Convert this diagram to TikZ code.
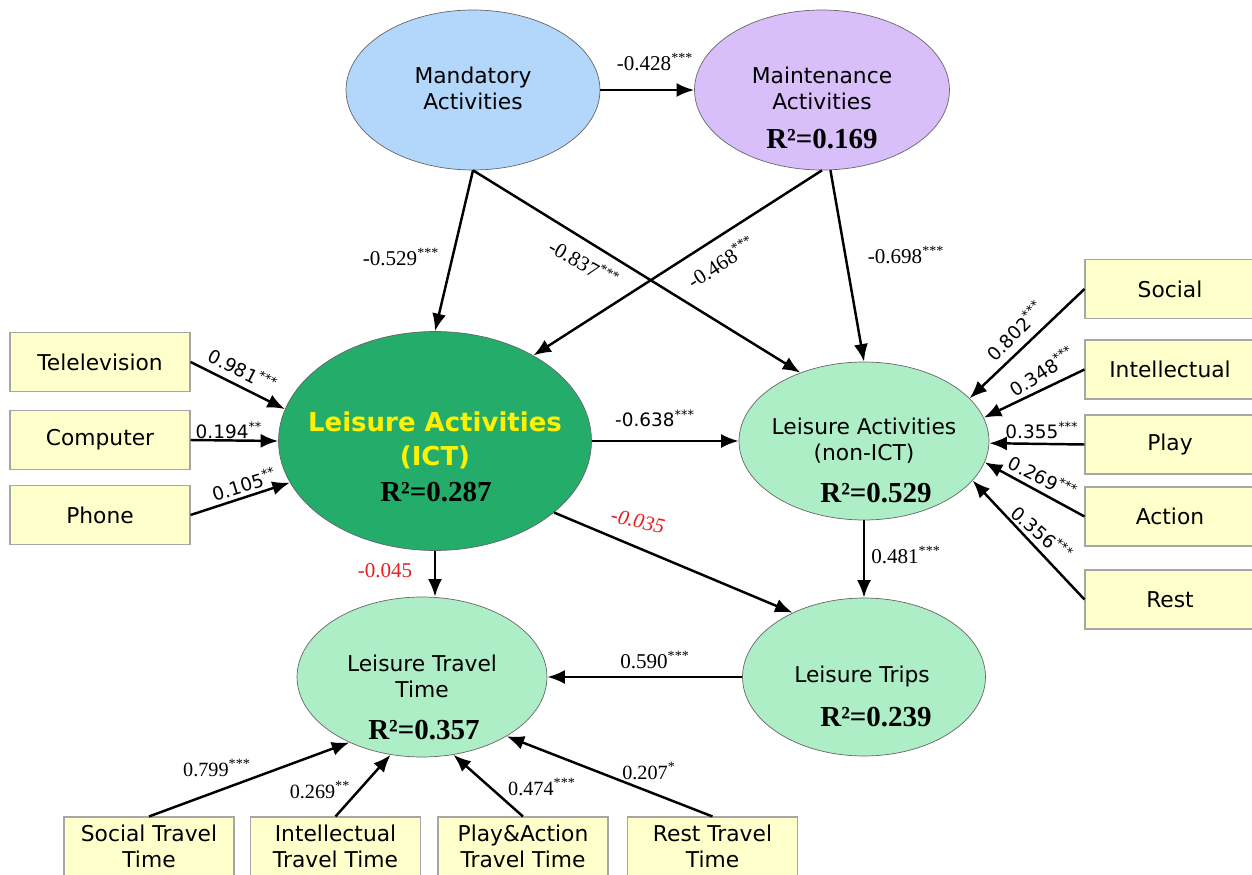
\documentclass[tikz,border=0pt]{standalone}
\usepackage{fontspec}
\setmainfont{Liberation Serif}
\setsansfont{DejaVu Sans}
\usetikzlibrary{shapes.geometric,arrows.meta}

\definecolor{mandblue}{RGB}{179,215,250}
\definecolor{maintpurple}{RGB}{217,191,250}
\definecolor{ictgreen}{RGB}{36,172,106}
\definecolor{lightgreen}{RGB}{174,238,199}
\definecolor{boxyellow}{RGB}{255,255,204}
\definecolor{coefred}{RGB}{230,30,30}

\tikzset{
    latent/.style={ellipse, draw=black!60, line width=0.4pt, inner sep=0pt},
    vartext/.style={font=\sffamily\fontsize{12.4}{14.8}\selectfont, align=center, inner sep=0pt},
    itembox/.style={rectangle, draw=black!35, line width=0.6pt, fill=boxyellow,
        minimum width=3.4cm, minimum height=1.18cm, inner sep=0pt,
        font=\sffamily\fontsize{12.4}{14.8}\selectfont, align=center},
    effect/.style={-{Latex[length=10pt,width=8pt]}, line width=1.4pt},
    rsq/.style={font=\bfseries\fontsize{16.5}{19}\selectfont, inner sep=0pt},
    coef/.style={font=\fontsize{12}{14}\selectfont, inner sep=0pt},
    coefsmall/.style={font=\fontsize{11.5}{13}\selectfont, inner sep=0pt},
    coefsf/.style={font=\sffamily\fontsize{10.5}{12}\selectfont, inner sep=0pt}
}

\begin{document}
\begin{tikzpicture}[x=0.02cm, y=-0.02cm]
    \clip (0,0) rectangle (1252,875);

    % 潜变量（椭圆）
    \node[latent, fill=mandblue, minimum width=5.08cm, minimum height=3.2cm] (mand) at (473,90) {};
    \node[latent, fill=maintpurple, minimum width=5.1cm, minimum height=3.2cm] (maint) at (822,90) {};
    \node[latent, fill=ictgreen, minimum width=6.26cm, minimum height=4.38cm] (ict) at (435,441) {};
    \node[latent, fill=lightgreen, minimum width=5.0cm, minimum height=3.16cm] (nonict) at (864,441) {};
    \node[latent, fill=lightgreen, minimum width=4.86cm, minimum height=3.16cm] (trips) at (864,677) {};
    \node[latent, fill=lightgreen, minimum width=5.0cm, minimum height=3.2cm] (travel) at (422,677) {};

    % 椭圆中的文字
    \node[vartext] (mand-text) at (473,88) {Mandatory\\Activities};
    \node[vartext] (maint-text) at (822,88) {Maintenance\\Activities};
    \node[vartext, text=yellow, font=\sffamily\bfseries\fontsize{14.8}{19.3}\selectfont] (ict-text) at (435,440) {Leisure Activities\\(ICT)};
    \node[vartext] (nonict-text) at (864,441) {Leisure Activities\\(non-ICT)};
    \node[vartext] (trips-text) at (862,676) {Leisure Trips};
    \node[vartext] (travel-text) at (422,676) {Leisure Travel\\Time};

    % R2
    \node[rsq] (maint-r2) at (822,139) {R²=0.169};
    \node[rsq] (ict-r2) at (436,492) {R²=0.287};
    \node[rsq] (nonict-r2) at (876,493) {R²=0.529};
    \node[rsq] (trips-r2) at (876,717) {R²=0.239};
    \node[rsq] (travel-r2) at (424,730) {R²=0.357};

    % 指标（矩形）
    \node[itembox, minimum width=3.6cm] (tv) at (100,362) {Telelevision};
    \node[itembox, minimum width=3.6cm] (comp) at (100,440) {Computer};
    \node[itembox, minimum width=3.6cm] (phone) at (100,515) {Phone};

    \node[itembox] (social) at (1170,289) {Social};
    \node[itembox] (intel) at (1170,369.5) {Intellectual};
    \node[itembox] (play) at (1170,444.5) {Play};
    \node[itembox] (action) at (1170,516.5) {Action};
    \node[itembox] (rest) at (1170,599.5) {Rest};

    \node[itembox] (stt) at (149,846.5) {Social Travel\\Time};
    \node[itembox] (itt) at (335.5,846.5) {Intellectual\\Travel Time};
    \node[itembox] (patt) at (523,846.5) {Play\&Action\\Travel Time};
    \node[itembox] (rtt) at (712.5,846.5) {Rest Travel\\Time};

    % 结构路径
    \draw[effect] (mand.east) -- (maint.west);
    \draw[effect] (mand.south) -- (ict.north);
    \draw[effect] (mand.south) -- (nonict.133);
    \draw[effect] (maint.-84) -- (nonict.north);
    \draw[effect] (maint.south) -- (ict.41);
    \draw[effect] (ict.east) -- (nonict.west);
    \draw[effect] (ict.-31) -- (trips.138);
    \draw[effect] (ict.south) -- (ict.south |- travel.north);
    \draw[effect] (nonict.south) -- (trips.north);
    \draw[effect] (trips.west) -- (travel.east);

    % 测量路径
    \draw[effect] (tv.east) -- (ict.168);
    \draw[effect] (comp.east) -- (ict.west);
    \draw[effect] (phone.east) -- (ict.196);

    \draw[effect] (social.west) -- (nonict.22);
    \draw[effect] (intel.west) -- (nonict.11);
    \draw[effect] (play.west) -- (nonict.-1);
    \draw[effect] (action.west) -- (nonict.-10);
    \draw[effect] (rest.west) -- (nonict.-20);

    \draw[effect] (stt.north) -- (travel.222);
    \draw[effect] (itt.north) -- (travel.248);
    \draw[effect] (patt.north) -- (travel.-68);
    \draw[effect] (rtt.north) -- (travel.-35);

    % 路径系数
    \node[coef] (c-mand-maint) at (655,62) {-0.428\textsuperscript{***}};
    \node[coef] (c-mand-ict) at (401,257) {-0.529\textsuperscript{***}};
    \node[coef, rotate=-30] (c-mand-nonict) at (584,263) {-0.837\textsuperscript{***}};
    \node[coef, rotate=33] (c-maint-ict) at (721,262) {-0.468\textsuperscript{***}};
    \node[coef] (c-maint-nonict) at (906,255) {-0.698\textsuperscript{***}};
    \node[coefsf] (c-ict-nonict) at (655,418) {-0.638\textsuperscript{***}};
    \node[coef, text=coefred, font=\itshape\fontsize{12}{14}\selectfont, rotate=-13] (c-ict-trips) at (638,521) {-0.035};
    \node[coef, text=coefred] (c-ict-travel) at (385,571) {-0.045};
    \node[coef] (c-nonict-trips) at (906,555) {0.481\textsuperscript{***}};
    \node[coef] (c-trips-travel) at (655,660) {0.590\textsuperscript{***}};

    \node[coefsf, rotate=-27] (c-tv) at (243,370) {0.981\textsuperscript{***}};
    \node[coefsf] (c-comp) at (229,430) {0.194\textsuperscript{**}};
    \node[coefsf, rotate=17] (c-phone) at (244,484) {0.105\textsuperscript{**}};

    \node[coefsf, rotate=46] (c-social) at (1015,331) {0.802\textsuperscript{***}};
    \node[coefsf, rotate=33] (c-intel) at (1042,371) {0.348\textsuperscript{***}};
    \node[coefsf] (c-play) at (1042,430) {0.355\textsuperscript{***}};
    \node[coefsf, rotate=-27] (c-action) at (1043,477) {0.269\textsuperscript{***}};
    \node[coefsf, rotate=-41] (c-rest) at (1042,533) {0.356\textsuperscript{***}};

    \node[coefsmall] (c-stt) at (217,768) {0.799\textsuperscript{***}};
    \node[coefsmall] (c-itt) at (320,790) {0.269\textsuperscript{**}};
    \node[coefsmall] (c-patt) at (542,787) {0.474\textsuperscript{***}};
    \node[coefsmall] (c-rtt) at (649,771) {0.207\textsuperscript{*}};
\end{tikzpicture}
\end{document}
